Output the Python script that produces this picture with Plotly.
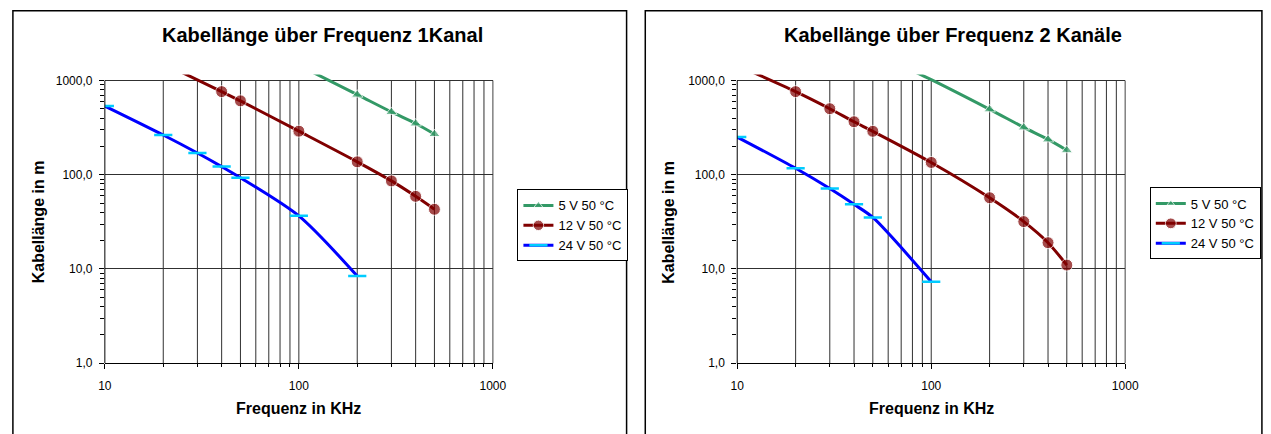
import plotly.graph_objects as go

# ---------------- data ----------------
freq_5v_1 = [100, 200, 300, 400, 500]
len_5v_1 = [1450, 708, 464, 350, 270]
freq_12v_1 = [20, 40, 50, 100, 200, 300, 400, 500]
len_12v_1 = [1520, 762, 608, 290, 137, 86, 59, 43]
freq_24v_1 = [10, 20, 30, 40, 50, 100, 200]
len_24v_1 = [535, 264, 170, 122, 93, 36.6, 8.4]

freq_5v_2 = [50, 100, 200, 300, 400, 500]
len_5v_2 = [2000, 1020, 494, 318, 237, 182]
freq_12v_2 = [10, 20, 30, 40, 50, 100, 200, 300, 400, 500]
len_12v_2 = [1450, 762, 502, 365, 289, 135, 57, 31.8, 19, 11]
freq_24v_2 = [10, 20, 30, 40, 50, 100]
len_24v_2 = [251, 117, 71.3, 48.5, 35.2, 7.3]

series_names = ["5 V 50 °C", "12 V 50 °C", "24 V 50 °C"]
titles = ["Kabellänge über Frequenz 1Kanal", "Kabellänge über Frequenz 2 Kanäle"]
x_title = "Frequenz in KHz"
y_title = "Kabellänge in m"
y_tickvals = [1, 10, 100, 1000]
y_ticktext = ["1,0", "10,0", "100,0", "1000,0"]
x_tickvals = [10, 100, 1000]
x_ticktext = ["10", "100", "1000"]
grid_freqs = [20, 30, 40, 50, 60, 70, 80, 90, 100, 200, 300, 400, 500, 600, 700, 800, 900]
minor_y = [2, 3, 4, 5, 6, 7, 8, 9, 20, 30, 40, 50, 60, 70, 80, 90, 200, 300, 400, 500, 600, 700, 800, 900]

# ---------------- layout constants ----------------
W, H = 1271, 434
FONT = "Arial, 'Liberation Sans', sans-serif"
GREEN = "#339966"
RED = "#800000"
BLUE = "#0000FF"
CYAN = "#00CCFF"
GRID = "#303030"

PLOT_TOP, PLOT_BOT = 81, 369
DEC = (PLOT_BOT - PLOT_TOP) / 3.0
Y_MAX_LOG = 3.065
CLIP_TOP = PLOT_TOP - (Y_MAX_LOG - 3) * DEC
plots = [(99.5, 494.0), (742.5, 1137.0)]
frames = [(6, 630), (649, 1276)]
title_x = [321, 962]
ytitle_x = [32, 673]
legend_pos = [(519, 192), (1162, 190)]


def px(x):
    return x / W


def py(y):
    return 1 - y / H


fig = go.Figure()

datasets = [
    [(freq_5v_1, len_5v_1), (freq_12v_1, len_12v_1), (freq_24v_1, len_24v_1)],
    [(freq_5v_2, len_5v_2), (freq_12v_2, len_12v_2), (freq_24v_2, len_24v_2)],
]

for i in range(2):
    xa = "x" if i == 0 else "x2"
    ya = "y" if i == 0 else "y2"
    lg = "legend" if i == 0 else "legend2"
    gx, gy = [], []
    for f in grid_freqs:
        gx += [f, f, None]
        gy += [1, 1000, None]
    fig.add_trace(go.Scatter(x=gx, y=gy, mode="lines", line=dict(color=GRID, width=1),
                             hoverinfo="skip", showlegend=False, xaxis=xa, yaxis=ya))
    (f5, v5), (f12, v12), (f24, v24) = datasets[i]
    fig.add_trace(go.Scatter(
        x=f5, y=v5, name=series_names[0], mode="lines+markers", xaxis=xa, yaxis=ya, legend=lg,
        line=dict(color=GREEN, width=3, shape="spline", smoothing=0.8),
        marker=dict(symbol="triangle-up", color=GREEN, size=[10 if v <= 1000 else 0 for v in v5])))
    fig.add_trace(go.Scatter(
        x=f12, y=v12, name=series_names[1], mode="lines+markers", xaxis=xa, yaxis=ya, legend=lg,
        line=dict(color=RED, width=3, shape="spline", smoothing=0.8),
        marker=dict(symbol="circle", color=RED, size=[12 if v <= 1000 else 0 for v in v12])))
    fig.add_trace(go.Scatter(
        x=f24, y=v24, name=series_names[2], mode="lines+markers", xaxis=xa, yaxis=ya, legend=lg,
        line=dict(color=BLUE, width=3, shape="spline", smoothing=0.8),
        marker=dict(symbol="line-ew", size=13, line=dict(color=CYAN, width=2.5), color=CYAN)))

axis_common_y = dict(
    type="log", range=[0, Y_MAX_LOG], tickmode="array", tickvals=y_tickvals, ticktext=y_ticktext,
    ticks="outside", ticklen=5, tickcolor="black", tickwidth=1,
    showgrid=True, gridcolor=GRID, gridwidth=1, showline=False, zeroline=False,
    tickfont=dict(family=FONT, size=12, color="black"), ticklabelstandoff=4,
    minor=dict(tickmode="array", tickvals=minor_y, ticks="outside", ticklen=4, tickcolor="black", showgrid=False),
    domain=[py(PLOT_BOT), py(CLIP_TOP)],
)
axis_common_x = dict(
    type="log", range=[1, 3], tickmode="array", tickvals=x_tickvals, ticktext=x_ticktext,
    ticks="outside", ticklen=5, tickcolor="black", tickwidth=1,
    showgrid=False, showline=True, linecolor="black", linewidth=1, zeroline=False,
    tickfont=dict(family=FONT, size=12, color="black"), ticklabelstandoff=6,
    minor=dict(tickmode="array", tickvals=grid_freqs, ticks="outside", ticklen=3, tickcolor="black", showgrid=False),
)

shapes = []
annotations = []
for i in range(2):
    x0, x1 = plots[i]
    shapes.append(dict(type="line", xref="paper", yref="paper", x0=px(x0), x1=px(x0),
                       y0=py(PLOT_BOT), y1=py(PLOT_TOP), line=dict(color="black", width=1), layer="above"))
    shapes.append(dict(type="line", xref="paper", yref="paper", x0=px(x1), x1=px(x1),
                       y0=py(PLOT_BOT), y1=py(PLOT_TOP), line=dict(color="#808080", width=1.5), layer="below"))
    fx0, fx1 = frames[i]
    shapes.append(dict(type="rect", xref="paper", yref="paper", x0=px(fx0), x1=px(fx1),
                       y0=-0.05, y1=py(10), line=dict(color="black", width=1.5), layer="above"))
    annotations.append(dict(text="<b>%s</b>" % titles[i], xref="paper", yref="paper",
                            x=px(title_x[i]), y=py(35), xanchor="center", yanchor="middle", showarrow=False,
                            font=dict(family=FONT, size=20, color="black")))
    annotations.append(dict(text="<b>%s</b>" % x_title, xref="paper", yref="paper",
                            x=px((x0 + x1) / 2), y=py(415), xanchor="center", yanchor="middle", showarrow=False,
                            font=dict(family=FONT, size=16, color="black")))
    annotations.append(dict(text="<b>%s</b>" % y_title, xref="paper", yref="paper", textangle=-90,
                            x=px(ytitle_x[i]), y=py((PLOT_TOP + PLOT_BOT) / 2),
                            xanchor="center", yanchor="middle", showarrow=False,
                            font=dict(family=FONT, size=16, color="black")))

legend_common = dict(bgcolor="white", bordercolor="black", borderwidth=1,
                     font=dict(family=FONT, size=13, color="black"),
                     xanchor="left", yanchor="top", tracegroupgap=0, itemwidth=30)

fig.update_layout(
    width=W, height=H, margin=dict(l=0, r=0, t=0, b=0),
    paper_bgcolor="white", plot_bgcolor="white",
    font=dict(family=FONT, color="black"),
    xaxis=dict(domain=[px(plots[0][0]), px(plots[0][1])], anchor="y", **axis_common_x),
    yaxis=dict(anchor="x", **axis_common_y),
    xaxis2=dict(domain=[px(plots[1][0]), px(plots[1][1])], anchor="y2", **axis_common_x),
    yaxis2=dict(anchor="x2", **axis_common_y),
    legend=dict(x=px(legend_pos[0][0]), y=py(legend_pos[0][1]), **legend_common),
    legend2=dict(x=px(legend_pos[1][0]), y=py(legend_pos[1][1]), **legend_common),
    shapes=shapes, annotations=annotations,
)

fig.write_html("out.html", config={"displayModeBar": False},
               post_script="document.body.style.margin='0';document.body.style.overflow='hidden';")
